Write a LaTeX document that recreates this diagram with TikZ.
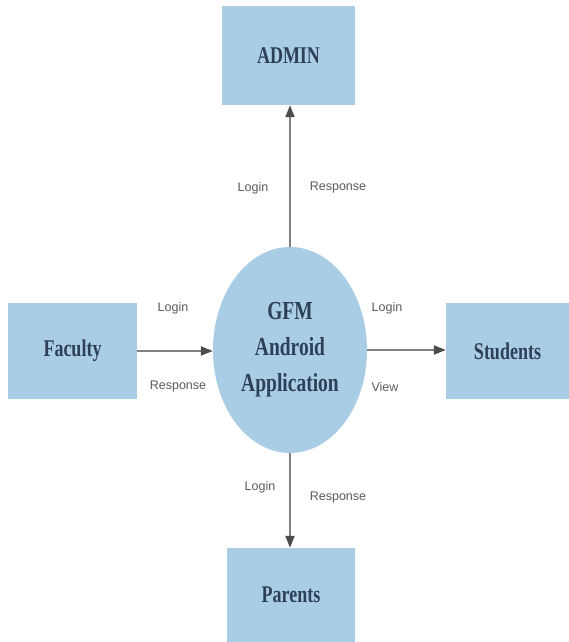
\documentclass[tikz,border=0pt]{standalone}
\usepackage{fontspec}
\setmainfont{Liberation Serif}
\newfontfamily\boxfont[FakeStretch=0.75]{Liberation Serif}
\newfontfamily\lblfont{Liberation Sans}
\usetikzlibrary{arrows.meta,shapes.geometric}
\definecolor{boxblue}{HTML}{AACDE6}
\definecolor{txtblue}{HTML}{2E4057}
\definecolor{lblgray}{HTML}{5A5A5A}
\definecolor{linegray}{HTML}{808080}
\tikzset{
  entity/.style={rectangle, fill=boxblue, draw=none, inner sep=0pt,
    font=\boxfont\bfseries\fontsize{24}{28}\selectfont, text=txtblue},
  proc/.style={ellipse, fill=boxblue, draw=none, inner sep=0pt,
    minimum width=154pt, minimum height=206pt, align=center,
    font=\boxfont\bfseries\fontsize{26}{36}\selectfont, text=txtblue},
  flow/.style={draw=linegray, line width=2pt,
    -{Triangle[length=12pt,width=9pt,fill=black!70,color=black!70]}},
  lbl/.style={font=\lblfont\fontsize{12.5}{14}\selectfont, text=lblgray}
}
\begin{document}
\begin{tikzpicture}[x=1pt,y=1pt]
\useasboundingbox (0,0) rectangle (569,642);
\node[entity, minimum width=133pt, minimum height=99pt] (admin) at (288.5,586.5) {ADMIN};
\node[entity, minimum width=129pt, minimum height=96pt] (faculty) at (72.5,291) {Faculty};
\node[entity, minimum width=123pt, minimum height=96pt] (students) at (507.5,291) {Students};
\node[entity, minimum width=128pt, minimum height=94pt] (parents) at (291,47) {Parents};
\node[proc] (app) at (290,292) {GFM\\Android\\Application};
\draw[flow] (app.north) -- (app.north |- admin.south);
\draw[flow] (faculty.east) -- (faculty.east -| app.west);
\draw[flow] (app.east) -- (app.east -| students.west);
\draw[flow] (app.south) -- (app.south |- parents.north);
\node[lbl] (l1) at (253,454) {Login};
\node[lbl] (r1) at (338,454) {Response};
\node[lbl] (l2) at (173,334) {Login};
\node[lbl] (r2) at (178,255) {Response};
\node[lbl] (l3) at (387,334) {Login};
\node[lbl] (v3) at (385,255) {View};
\node[lbl] (l4) at (260,155) {Login};
\node[lbl] (r4) at (338,145) {Response};
\end{tikzpicture}
\end{document}
